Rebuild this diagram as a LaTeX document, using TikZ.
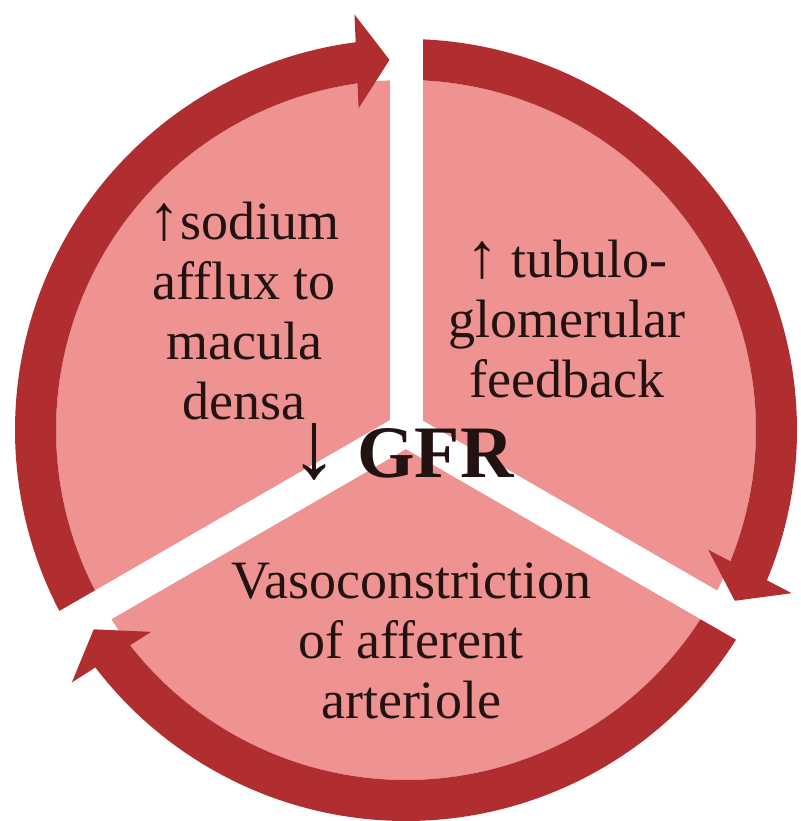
\documentclass[tikz,border=0pt]{standalone}
\usepackage{fontspec}
\setmainfont{Liberation Serif}
\definecolor{ringred}{RGB}{176,46,48}
\definecolor{sectorpink}{RGB}{238,146,146}
\definecolor{inkdark}{RGB}{35,18,18}
\newcommand\bigarrow[2]{{\fontsize{#1}{59.5}\selectfont #2}}
\begin{document}
\begin{tikzpicture}[x=1pt,y=1pt,
  blocktext/.style={text=inkdark, align=center, inner sep=0pt,
    font=\fontsize{54}{60}\selectfont},
  centretext/.style={text=inkdark, inner sep=0pt,
    font=\fontsize{74}{80}\selectfont}]
\useasboundingbox (-406,-391) rectangle (394,430);
% pink disc
\fill[sectorpink] (0,0) circle[radius=350pt];
% three ring segments, each ending in an arrowhead before the next gap
\foreach \s/\e in {210/90,90/-30,-30/-150}{
  \pgfmathsetmacro\tipang{\e+2.55}
  \fill[ringred] (\s:391pt)
    arc[start angle=\s, end angle={\tipang+asin(33/391)}, radius=391pt]
    -- ({417.5*cos(\tipang)-33*sin(\tipang)}, {417.5*sin(\tipang)+33*cos(\tipang)})
    -- ({370.5*cos(\tipang)}, {370.5*sin(\tipang)})
    -- ({323.5*cos(\tipang)-33*sin(\tipang)}, {323.5*sin(\tipang)+33*cos(\tipang)})
    -- ({\tipang+asin(33/350)}:350pt)
    arc[start angle={\tipang+asin(33/350)}, end angle=\s, radius=350pt]
    -- cycle;
}
% white gaps splitting the disc into three sectors
\foreach \p in {90,210,-30}
  \fill[white, rotate=\p] (0,-16.5) rectangle (440,16.5);
% texts (base anchor sits on the last line)
\node[blocktext, anchor=base] (sodium) at (-162,10)
  {\bigarrow{64}{↑}sodium\\afflux to\\macula\\densa};
\node[blocktext, anchor=base] (tgf) at (161,32)
  {\bigarrow{64}{↑} tubulo-\\glomerular\\feedback};
\node[blocktext, anchor=base] (vaso) at (5,-288)
  {Vasoconstriction\\of afferent\\arteriole};
\node[centretext, anchor=base] (gfr) at (-3.5,-48)
  {\bigarrow{96}{↓} \textbf{GFR}};
\end{tikzpicture}
\end{document}
